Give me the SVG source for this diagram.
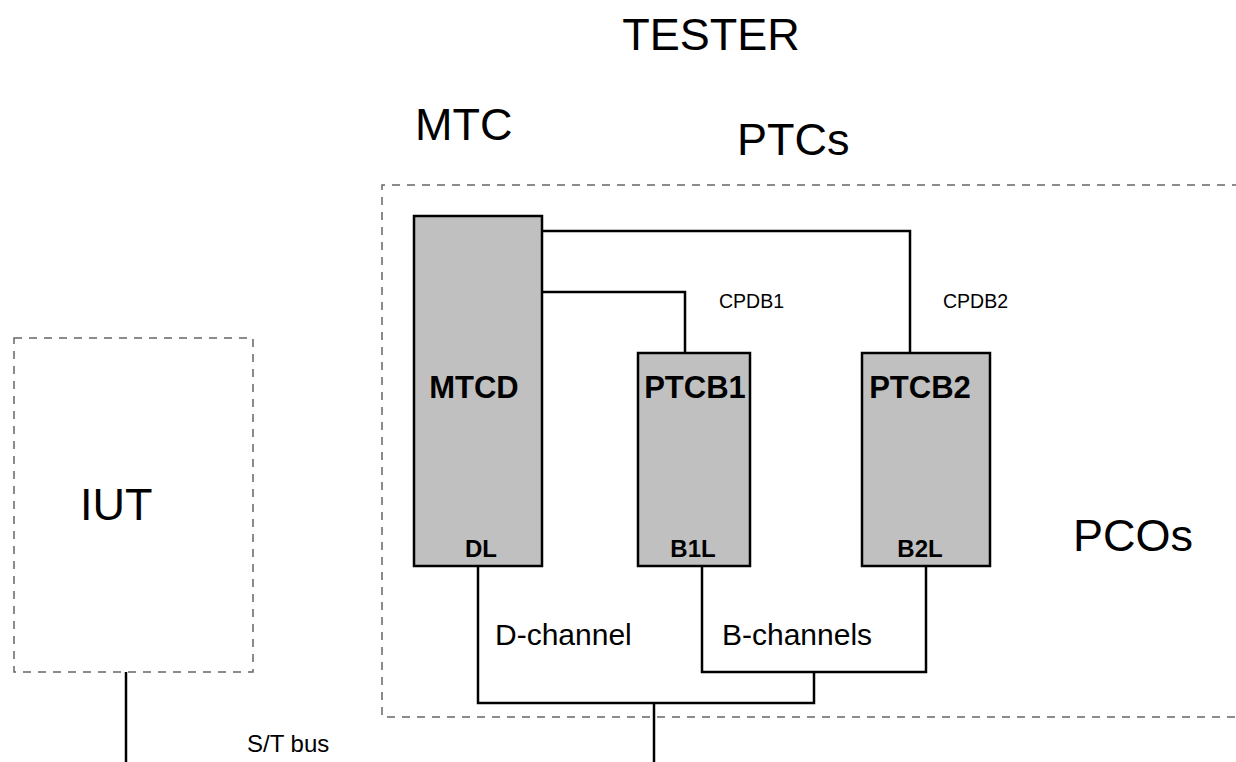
<svg xmlns="http://www.w3.org/2000/svg" width="1236" height="762" viewBox="0 0 1236 762">
<style>
text{font-family:"Liberation Sans",Arial,sans-serif;fill:#000}
.big{font-size:45px}
.mid{font-size:30px}
.lab{font-size:31px;font-weight:bold}
.pco{font-size:24px;font-weight:bold}
.sm{font-size:19.5px}
.bus{font-size:24px}
.box{fill:#c0c0c0;stroke:#000;stroke-width:2.5}
.dash{fill:none;stroke:#666;stroke-width:1.5;stroke-dasharray:8 7}
.wire{fill:none;stroke:#000;stroke-width:2.5}
</style>
<rect width="1236" height="762" fill="#fff"/>
<g id="tester">
<path class="dash" d="M1240,185 H382 V717 H1240"/>
<text class="big" x="711" y="50" text-anchor="middle">TESTER</text>
<text class="big" x="415" y="140">MTC</text>
<text class="big" x="737" y="155">PTCs</text>
<text class="big" x="1073" y="551">PCOs</text>
</g>
<g id="iut">
<rect class="dash" x="14" y="338" width="239" height="334"/>
<text class="big" x="80" y="520">IUT</text>
</g>
<g id="connectors">
<path class="wire" d="M542,231 H910 V353"/>
<path class="wire" d="M542,292 H685 V353"/>
<path class="wire" d="M478,566 V703 H814 V672"/>
<path class="wire" d="M702,566 V672 H926 V566"/>
<path class="wire" d="M654,703 V762"/>
<path class="wire" d="M126,672 V762"/>
<text class="sm" x="719" y="308">CPDB1</text>
<text class="sm" x="943" y="308">CPDB2</text>
<text class="mid" x="495" y="645">D-channel</text>
<text class="mid" x="722" y="645">B-channels</text>
<text class="bus" x="247" y="752">S/T bus</text>
</g>
<g id="mtcd">
<rect class="box" x="414" y="216" width="128" height="350"/>
<text class="lab" x="474" y="398" text-anchor="middle">MTCD</text>
<text class="pco" x="481" y="557" text-anchor="middle">DL</text>
</g>
<g id="ptcb1">
<rect class="box" x="638" y="353" width="112" height="213"/>
<text class="lab" x="695" y="398" text-anchor="middle">PTCB1</text>
<text class="pco" x="693" y="557" text-anchor="middle">B1L</text>
</g>
<g id="ptcb2">
<rect class="box" x="862" y="353" width="128" height="213"/>
<text class="lab" x="920" y="398" text-anchor="middle">PTCB2</text>
<text class="pco" x="920" y="557" text-anchor="middle">B2L</text>
</g>
</svg>
